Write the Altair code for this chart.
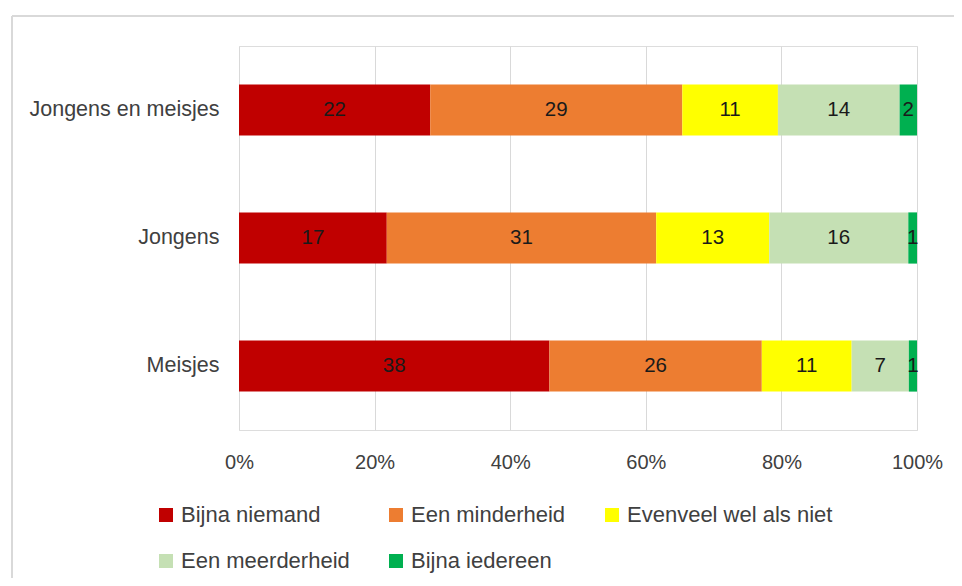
import altair as alt
import pandas as pd

groups = ["Jongens en meisjes", "Jongens", "Meisjes"]
categories = ["Bijna niemand", "Een minderheid", "Evenveel wel als niet",
              "Een meerderheid", "Bijna iedereen"]
colors = ["#C00000", "#ED7D31", "#FFFF00", "#C5E0B4", "#00B050"]
values = {
    "Jongens en meisjes": [22, 29, 11, 14, 2],
    "Jongens": [17, 31, 13, 16, 1],
    "Meisjes": [38, 26, 11, 7, 1],
}

rows = []
for g in groups:
    for i, (c, v) in enumerate(zip(categories, values[g])):
        rows.append({"groep": g, "cat": c, "order": i, "value": v})
df = pd.DataFrame(rows)

FONT = "Liberation Sans"
W, H = 678, 384

base = alt.Chart(df).transform_stack(
    stack="value", groupby=["groep"], as_=["v0", "v1"], offset="normalize",
    sort=[alt.SortField("order", order="ascending")]
).transform_calculate(mid="(datum.v0 + datum.v1) / 2")

yenc = alt.Y("groep:N", sort=groups, title=None,
             scale=alt.Scale(paddingInner=0.6, paddingOuter=0.3),
             axis=alt.Axis(ticks=False, domain=False, labelPadding=20,
                           labelFontSize=21.5, labelColor="#404040", labelFont=FONT,
                           labelLimit=400))

bars = base.mark_bar().encode(
    x=alt.X("v0:Q", title=None, scale=alt.Scale(domain=[0, 1]),
            axis=alt.Axis(format=".0%", values=[0, 0.2, 0.4, 0.6, 0.8, 1.0],
                          ticks=False, domain=False, grid=True, gridColor="#d9d9d9",
                          gridWidth=1, labelPadding=22, labelFontSize=20,
                          labelFlush=False, labelBound=False,
                          labelColor="#404040", labelFont=FONT)),
    x2="v1:Q",
    y=yenc,
    color=alt.Color("cat:N", sort=categories,
                    scale=alt.Scale(domain=categories, range=colors),
                    legend=alt.Legend(title=None, orient="none", legendX=-84, legendY=458,
                                      direction="horizontal", columns=3,
                                      symbolType="square", symbolSize=196,
                                      symbolStrokeWidth=0, labelFontSize=22,
                                      labelFont=FONT, labelColor="#404040",
                                      labelOffset=4, columnPadding=35, rowPadding=24,
                                      padding=0, labelLimit=400)),
    order=alt.Order("order:Q"),
)

labels = base.mark_text(fontSize=20.5, font=FONT, color="#1a1a1a", baseline="middle").encode(
    x=alt.X("mid:Q"),
    y=alt.Y("groep:N", sort=groups),
    text=alt.Text("value:Q"),
)

frame_df = pd.DataFrame({"a": [0]})
top_line = alt.Chart(frame_df).mark_rule(color="#d9d9d9", strokeWidth=2).encode(
    x=alt.value(-227), x2=alt.value(900), y=alt.value(-30))
left_line = alt.Chart(frame_df).mark_rule(color="#d9d9d9", strokeWidth=2).encode(
    x=alt.value(-227), y=alt.value(-30), y2=alt.value(700))

chart = alt.layer(top_line, left_line, bars, labels).properties(
    width=W, height=H,
    autosize=alt.AutoSizeParams(type="none"),
    padding={"left": 231, "top": 38, "right": 37, "bottom": 148},
).configure_view(stroke=None).configure(background="white")

chart.save("out.html", embed_options={"renderer": "svg", "actions": False})
